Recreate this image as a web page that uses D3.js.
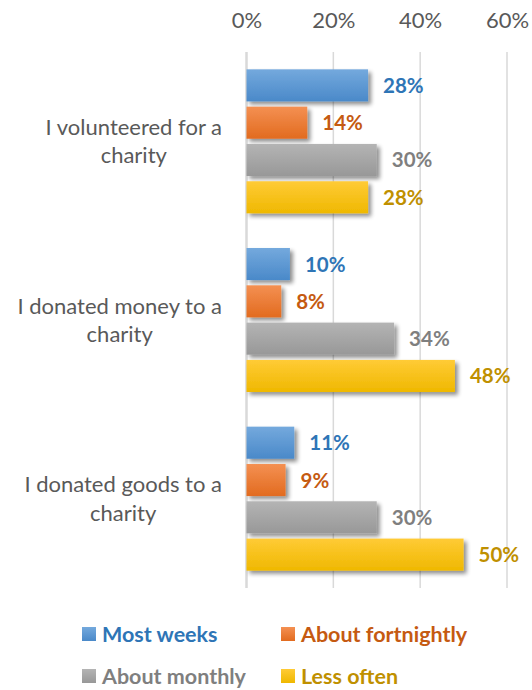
<!DOCTYPE html>
<html><head><meta charset="utf-8">
<script src="https://cdn.jsdelivr.net/npm/d3@7"></script>
<style>body{margin:0;background:#fff}svg{display:block}</style>
</head><body>
<svg id="c" width="532" height="690"></svg>
<script>
const categories = ["I volunteered for a charity", "I donated money to a charity", "I donated goods to a charity"];
const labelLines = [["I volunteered for a", "charity"], ["I donated money to a", "charity"], ["I donated goods to a", "charity"]];
const seriesNames = ["Most weeks", "About fortnightly", "About monthly", "Less often"];
const mostWeeks = [0.28, 0.10, 0.11];
const aboutFortnightly = [0.14, 0.08, 0.09];
const aboutMonthly = [0.30, 0.34, 0.30];
const lessOften = [0.28, 0.48, 0.50];
const tickValues = [0, 0.2, 0.4, 0.6];

const seriesValues = [mostWeeks, aboutFortnightly, aboutMonthly, lessOften];
const barTop = ["#74a9dd", "#f49052", "#b4b4b4", "#ffcb36"];
const barBot = ["#4a89c9", "#e26b1f", "#989898", "#efb800"];
const labelCol = ["#2e75b6", "#c55a11", "#7f7f7f", "#bf9000"];
const font = "Lato, 'Open Sans', sans-serif";

const svg = d3.select("#c");
const defs = svg.append("defs");
seriesNames.forEach((s, i) => {
  const g = defs.append("linearGradient").attr("id", "g" + i).attr("x1", 0).attr("x2", 0).attr("y1", 0).attr("y2", 1);
  g.append("stop").attr("offset", "0%").attr("stop-color", barTop[i]);
  g.append("stop").attr("offset", "100%").attr("stop-color", barBot[i]);
});
const f = defs.append("filter").attr("id", "sh").attr("x", "-10%").attr("y", "-30%").attr("width", "130%").attr("height", "180%");
f.append("feGaussianBlur").attr("in", "SourceAlpha").attr("stdDeviation", 2.2);
f.append("feOffset").attr("dx", 2.5).attr("dy", 3).attr("result", "ob");
f.append("feComponentTransfer").append("feFuncA").attr("type", "linear").attr("slope", 0.45);
const m = f.append("feMerge");
m.append("feMergeNode");
m.append("feMergeNode").attr("in", "SourceGraphic");

const x = d3.scaleLinear().domain([0, 0.6]).range([246.5, 507]);
const y0 = d3.scaleBand().domain(categories).range([52, 588]).paddingInner(0.194).paddingOuter(0.097);
const y1 = d3.scaleBand().domain(seriesNames).range([0, y0.bandwidth()]).paddingInner(0.14).paddingOuter(0);

// gridlines
svg.append("g").selectAll("line").data(tickValues).join("line")
  .attr("x1", d => x(d)).attr("x2", d => x(d)).attr("y1", 52).attr("y2", 588)
  .attr("stroke", "#d9d9d9").attr("stroke-width", d => d === 0 ? 2.5 : 1.5);

// top axis labels
const ax = svg.append("g").attr("transform", "translate(0,28)")
  .call(d3.axisTop(x).tickValues(tickValues).tickFormat(d3.format(".0%")).tickSize(0).tickPadding(0));
ax.select(".domain").remove();
ax.selectAll("text").attr("fill", "#595959").style("font-family", font).style("font-size", "22px").attr("dy", 0);

// bars
const groups = svg.append("g").selectAll("g").data(categories).join("g")
  .attr("transform", c => `translate(0,${y0(c)})`);
groups.each(function(c, ci) {
  const g = d3.select(this);
  const data = seriesNames.map((s, si) => ({s, si, v: seriesValues[si][ci]}));
  g.selectAll("rect").data(data).join("rect")
    .attr("x", x(0)).attr("y", d => y1(d.s))
    .attr("width", d => x(d.v) - x(0)).attr("height", y1.bandwidth())
    .attr("fill", d => `url(#g${d.si})`).attr("filter", "url(#sh)");
  g.selectAll("text").data(data).join("text")
    .attr("x", d => x(d.v) + 15).attr("y", d => y1(d.s) + y1.bandwidth() / 2 + 7.5)
    .attr("fill", d => labelCol[d.si]).style("font-family", font).style("font-weight", "bold").style("font-size", "20.5px")
    .text(d => d3.format(".0%")(d.v));
});

// category labels
categories.forEach((c, ci) => {
  const t = svg.append("text").style("font-family", font).style("font-size", "22px").attr("fill", "#595959")
    .attr("text-anchor", "middle");
  const lines = labelLines[ci];
  const cy = y0(c) + y0.bandwidth() / 2;
  const spans = lines.map((l, li) => t.append("tspan").text(l).attr("y", cy - 6.5 + li * 28.5));
  let maxW = 0;
  spans.forEach(s => { maxW = Math.max(maxW, s.node().getComputedTextLength()); });
  spans.forEach(s => s.attr("x", 222 - maxW / 2));
});

// legend
const legPos = [[82, 642], [281, 642], [82, 684], [281, 684]];
seriesNames.forEach((s, i) => {
  const [lx, ly] = legPos[i];
  svg.append("rect").attr("x", lx).attr("y", ly - 15).attr("width", 14).attr("height", 14).attr("fill", `url(#g${i})`);
  svg.append("text").attr("x", lx + 20).attr("y", ly)
    .attr("fill", labelCol[i]).style("font-family", font).style("font-weight", "bold").style("font-size", "21.5px").text(s);
});
</script>
</body></html>
